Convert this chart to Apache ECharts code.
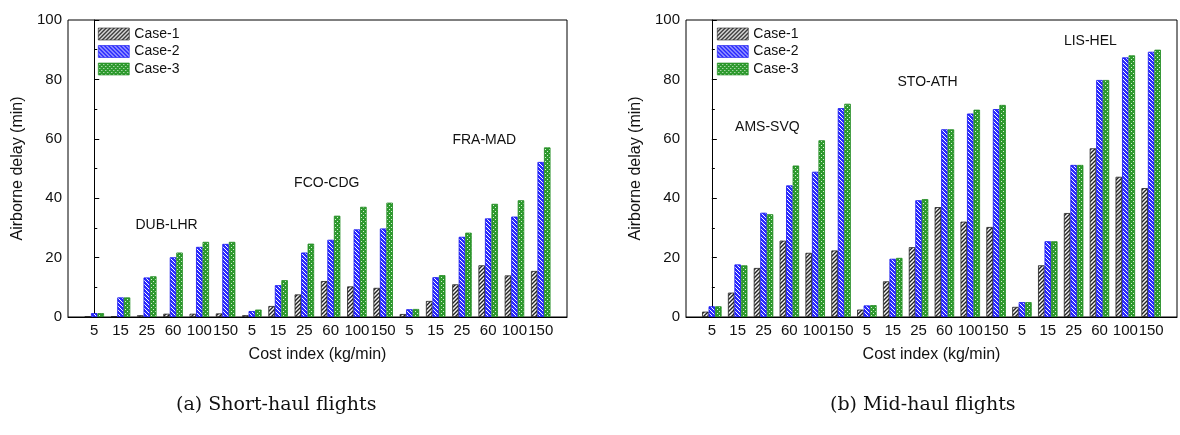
<!DOCTYPE html>
<html>
<head>
<meta charset="utf-8">
<script src="https://cdn.jsdelivr.net/npm/echarts@6/dist/echarts.min.js"></script>
<style>
  html, body { margin: 0; padding: 0; background: #fff; }
  #chart { width: 1180px; height: 435px; }
</style>
</head>
<body>
<div id="chart"></div>
<script>
// cost index labels, three routes per panel
var costLabels = ['5', '15', '25', '60', '100', '150', '5', '15', '25', '60', '100', '150', '5', '15', '25', '60', '100', '150'];
var caseNames = ['Case-1', 'Case-2', 'Case-3'];

// (a) short-haul: DUB-LHR, FCO-CDG, FRA-MAD
var shortCase1 = [0.2, 0.3, 0.6, 1.1, 1.1, 1.2, 0.6, 3.7, 7.6, 12.1, 10.3, 9.8, 1.0, 5.4, 11.0, 17.4, 14.0, 15.5];
var shortCase2 = [1.3, 6.6, 13.3, 20.1, 23.6, 24.6, 2.0, 10.7, 21.7, 26.0, 29.5, 29.8, 2.6, 13.4, 27.0, 33.2, 33.8, 52.2];
var shortCase3 = [1.3, 6.6, 13.7, 21.7, 25.3, 25.3, 2.5, 12.4, 24.7, 34.1, 37.1, 38.5, 2.7, 14.1, 28.4, 38.1, 39.3, 57.1];

// (b) mid-haul: AMS-SVQ, STO-ATH, LIS-HEL
var midCase1 = [1.8, 8.2, 16.5, 25.7, 21.6, 22.4, 2.5, 12.0, 23.5, 37.0, 32.1, 30.3, 3.4, 17.4, 35.0, 56.8, 47.2, 43.4];
var midCase2 = [3.6, 17.7, 35.1, 44.3, 48.9, 70.3, 3.9, 19.6, 39.3, 63.2, 68.5, 70.0, 5.0, 25.5, 51.2, 79.8, 87.4, 89.3];
var midCase3 = [3.6, 17.4, 34.6, 51.0, 59.5, 71.8, 4.0, 19.9, 39.7, 63.2, 69.8, 71.4, 5.0, 25.5, 51.2, 79.8, 88.1, 90.0];

// route labels: [name, x position (category index), y value]
var shortRoutes = [['DUB-LHR', 3.0, 31], ['FCO-CDG', 9.1, 45], ['FRA-MAD', 15.1, 59.7]];
var midRoutes = [['AMS-SVQ', 2.4, 63.8], ['STO-ATH', 8.6, 79], ['LIS-HEL', 14.9, 93]];

function makePattern(kind) {
    var c = document.createElement('canvas');
    c.width = 4; c.height = 4;
    var ctx = c.getContext('2d');
    if (kind === 1) {
        ctx.fillStyle = '#f4f4f4';
        ctx.fillRect(0, 0, 4, 4);
        ctx.strokeStyle = '#222222';
        ctx.lineWidth = 1.4;
        ctx.beginPath();
        ctx.moveTo(-1, 5); ctx.lineTo(5, -1);
        ctx.moveTo(-1, 1); ctx.lineTo(1, -1);
        ctx.moveTo(3, 5); ctx.lineTo(5, 3);
        ctx.stroke();
    } else if (kind === 2) {
        ctx.fillStyle = '#2a2aff';
        ctx.fillRect(0, 0, 4, 4);
        ctx.strokeStyle = '#ffffff';
        ctx.lineWidth = 1;
        ctx.beginPath();
        ctx.moveTo(-1, -1); ctx.lineTo(5, 5);
        ctx.moveTo(3, -1); ctx.lineTo(5, 1);
        ctx.moveTo(-1, 3); ctx.lineTo(1, 5);
        ctx.stroke();
    } else {
        ctx.fillStyle = '#2e9a2e';
        ctx.fillRect(0, 0, 4, 4);
        ctx.fillStyle = '#d8f0d8';
        ctx.fillRect(1, 1, 1, 1);
        ctx.fillRect(3, 3, 1, 1);
    }
    return { image: c, repeat: 'repeat' };
}

var fills = [makePattern(1), makePattern(2), makePattern(3)];
var borders = ['#222222', '#1010ee', '#1f8a1f'];

function toPairs(arr) {
    return arr.map(function (v, i) { return [i, v]; });
}

function routeMarks(routes) {
    return {
        symbol: 'rect',
        symbolSize: 1,
        itemStyle: { color: 'rgba(0,0,0,0)' },
        label: {
            show: true, position: 'inside', color: '#111',
            fontFamily: 'Liberation Sans', fontSize: 14,
            formatter: function (p) { return p.name; }
        },
        data: routes.map(function (r) { return { name: r[0], coord: [r[1], r[2]] }; })
    };
}

function barSeries(idx, data, gridIdx, routes) {
    var s = {
        name: caseNames[idx],
        type: 'bar',
        xAxisIndex: gridIdx,
        yAxisIndex: gridIdx,
        barWidth: 6.5,
        barGap: '0%',
        itemStyle: { color: fills[idx], borderColor: borders[idx], borderWidth: 0.8 },
        emphasis: { disabled: true },
        data: toPairs(data)
    };
    if (routes) s.markPoint = routeMarks(routes);
    return s;
}

var font = 'Liberation Sans';

function xAxisDef(gridIdx) {
    return {
        type: 'value', gridIndex: gridIdx,
        min: -1, max: 18, interval: 1,
        axisLine: { lineStyle: { color: '#000', width: 1 } },
        axisTick: { show: false },
        splitLine: { show: false },
        axisLabel: {
            color: '#111', fontFamily: font, fontSize: 15, margin: 6,
            formatter: function (v) { return (v >= 0 && v < costLabels.length) ? costLabels[v] : ''; }
        },
        name: 'Cost index (kg/min)', nameLocation: 'middle', nameGap: 30,
        nameTextStyle: { color: '#111', fontFamily: font, fontSize: 16 }
    };
}

function yAxisDef(gridIdx) {
    return {
        type: 'value', gridIndex: gridIdx,
        min: 0, max: 100, interval: 20,
        axisLine: { show: true, lineStyle: { color: '#000', width: 1 } },
        axisTick: { show: true, inside: true, length: 5, lineStyle: { color: '#000' } },
        minorTick: { show: true, splitNumber: 2, length: 3, lineStyle: { color: '#000' } },
        splitLine: { show: false },
        axisLabel: { color: '#111', fontFamily: font, fontSize: 15, margin: 6 },
        name: 'Airborne delay (min)', nameLocation: 'middle', nameGap: 42,
        nameTextStyle: { color: '#111', fontFamily: font, fontSize: 16 }
    };
}

function legendDef(left) {
    return {
        orient: 'vertical', left: left, top: 27, padding: 0,
        itemWidth: 31, itemHeight: 12, itemGap: 3.5,
        icon: 'rect',
        itemStyle: { borderWidth: 0.6 },
        textStyle: { color: '#111', fontFamily: font, fontSize: 14 },
        data: caseNames
    };
}

var chart = echarts.init(document.getElementById('chart'), null, { renderer: 'canvas' });
chart.setOption({
    animation: false,
    backgroundColor: '#fff',
    grid: [
        { left: 68, top: 20, width: 499, height: 297, show: true, borderColor: '#000', borderWidth: 1 },
        { left: 686, top: 20, width: 498, height: 297, show: true, borderColor: '#000', borderWidth: 1 }
    ],
    legend: [legendDef(98), legendDef(717)],
    xAxis: [xAxisDef(0), xAxisDef(1)],
    yAxis: [yAxisDef(0), yAxisDef(1)],
    series: [
        barSeries(0, shortCase1, 0, shortRoutes),
        barSeries(1, shortCase2, 0),
        barSeries(2, shortCase3, 0),
        barSeries(0, midCase1, 1, midRoutes),
        barSeries(1, midCase2, 1),
        barSeries(2, midCase3, 1)
    ],
    graphic: [
        { type: 'text', left: 176, top: 396,
          style: { text: '(a) Short-haul flights', fill: '#111', font: '19px "DejaVu Serif"' } },
        { type: 'text', left: 830, top: 396,
          style: { text: '(b) Mid-haul flights', fill: '#111', font: '19px "DejaVu Serif"' } }
    ]
});
</script>
</body>
</html>
